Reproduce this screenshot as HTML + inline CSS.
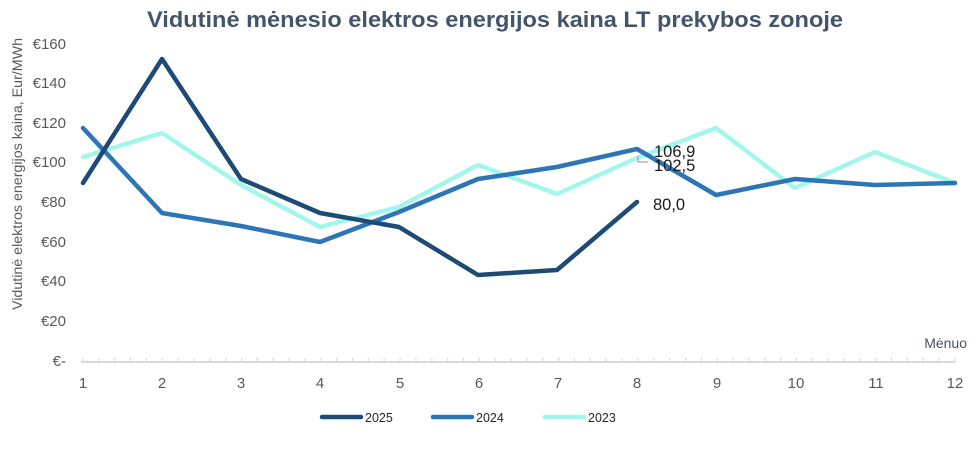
<!DOCTYPE html>
<html>
<head>
<meta charset="utf-8">
<style>
  html,body{margin:0;padding:0;background:#fff;}
  svg{display:block;font-family:"Liberation Sans",sans-serif;}
</style>
</head>
<body>
<svg width="975" height="453" viewBox="0 0 975 453" xmlns="http://www.w3.org/2000/svg">
  <rect width="975" height="453" fill="#ffffff"/>
  <text x="495" y="27" text-anchor="middle" font-size="22" font-weight="bold" fill="#44546a" textLength="696" lengthAdjust="spacingAndGlyphs">Vidutinė mėnesio elektros energijos kaina LT prekybos zonoje</text>

  <text transform="translate(22,174) rotate(-90)" text-anchor="middle" font-size="13.5" fill="#595959" textLength="272" lengthAdjust="spacingAndGlyphs">Vidutinė elektros energijos kaina, Eur/MWh</text>

  <g font-size="15" fill="#595959" text-anchor="end">
    <text x="66" y="49">€160</text>
    <text x="66" y="88">€140</text>
    <text x="66" y="128">€120</text>
    <text x="66" y="167">€100</text>
    <text x="66" y="207">€80</text>
    <text x="66" y="247">€60</text>
    <text x="66" y="286">€40</text>
    <text x="66" y="326">€20</text>
    <text x="66" y="366">€-</text>
  </g>

  <line x1="81" y1="362" x2="955" y2="362" stroke="#d9d9d9" stroke-width="2"/>
  <line x1="82.4" y1="360" x2="956" y2="360" stroke="#d9d9d9" stroke-width="4" stroke-dasharray="1.2 14.654"/>

  <g font-size="15" fill="#595959" text-anchor="middle">
    <text x="83" y="388">1</text>
    <text x="162" y="388">2</text>
    <text x="241" y="388">3</text>
    <text x="320" y="388">4</text>
    <text x="400" y="388">5</text>
    <text x="479" y="388">6</text>
    <text x="558" y="388">7</text>
    <text x="637" y="388">8</text>
    <text x="717" y="388">9</text>
    <text x="796" y="388">10</text>
    <text x="876" y="388">11</text>
    <text x="955" y="388">12</text>
  </g>
  <text x="967" y="348" text-anchor="end" font-size="14" fill="#44546a">Mėnuo</text>

  <polyline fill="none" stroke="#a3f7ea" stroke-width="4.5" stroke-linejoin="round" stroke-linecap="round"
    points="83,157 162,133 241,185 320,227 399,207 478,165 557,194 637,158 716,128 795,188 875,152 955,183"/>
  <polyline fill="none" stroke="#2e75b6" stroke-width="4.5" stroke-linejoin="round" stroke-linecap="round"
    points="83,128 162,213 241,226 320,242 399,212 478,179 557,167 637,149 716,195 795,179 875,185 955,183"/>
  <polyline fill="none" stroke="#1e4b75" stroke-width="4.5" stroke-linejoin="round" stroke-linecap="round"
    points="83,183 162,59 241,179 320,213 399,227 478,275 557,270 637,202"/>

  <polyline fill="none" stroke="#a6a6a6" stroke-width="1.3" points="638,156 638,162 648,162"/>
  <g font-size="16.5" fill="#1a1a1a">
    <text x="654" y="157">106,9</text>
    <text x="654" y="171">102,5</text>
    <text x="653" y="210">80,0</text>
  </g>

  <g stroke-width="4.5" stroke-linecap="round">
    <line x1="322" y1="417" x2="361" y2="417" stroke="#1e4b75"/>
    <line x1="433" y1="417" x2="472" y2="417" stroke="#2e75b6"/>
    <line x1="545" y1="417" x2="584" y2="417" stroke="#a3f7ea"/>
  </g>
  <g font-size="12.5" fill="#262626">
    <text x="365" y="422">2025</text>
    <text x="476" y="422">2024</text>
    <text x="588" y="422">2023</text>
  </g>
</svg>
</body>
</html>
